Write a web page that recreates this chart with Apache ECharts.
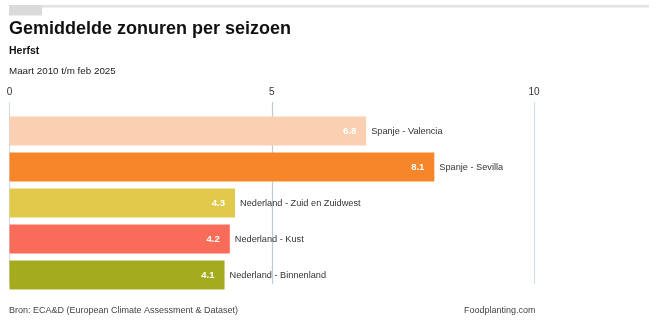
<!DOCTYPE html>
<html>
<head>
<meta charset="utf-8">
<script src="https://cdn.jsdelivr.net/npm/echarts@6/dist/echarts.min.js"></script>
<style>
  html, body { margin: 0; padding: 0; background: #fff; }
  #chart { width: 656px; height: 322px; }
</style>
</head>
<body>
<div id="chart"></div>
<script>
// Average sunshine hours per day, autumn, per region
const regions = [
  'Spanje - Valencia',
  'Spanje - Sevilla',
  'Nederland - Zuid en Zuidwest',
  'Nederland - Kust',
  'Nederland - Binnenland'
];
const sunHours = [6.8, 8.1, 4.3, 4.2, 4.1];
const barColors = ['#fbcfb1', '#f7862b', '#e1c94c', '#f96c5a', '#a5ab1f'];
const axisTicks = [0, 5, 10];

const FONT = '"Liberation Sans", Arial, Helvetica, sans-serif';

const chart = echarts.init(document.getElementById('chart'), null, { renderer: 'canvas' });

const barData = sunHours.map((v, i) => ({
  value: v,
  itemStyle: { color: barColors[i] }
}));

const option = {
  animation: false,
  backgroundColor: '#fff',
  textStyle: { fontFamily: FONT },
  graphic: [
    { type: 'rect', shape: { x: 9, y: 5, width: 640, height: 2.5 }, style: { fill: '#e2e2e2' }, silent: true },
    { type: 'rect', shape: { x: 9, y: 5, width: 33, height: 10.5 }, style: { fill: '#dadada' }, silent: true },
    { type: 'text', x: 9, y: 29, style: { text: 'Gemiddelde zonuren per seizoen', font: 'bold 18px ' + FONT, fill: '#111', textVerticalAlign: 'middle' }, silent: true },
    { type: 'text', x: 9, y: 51, style: { text: 'Herfst', font: 'bold 10.5px ' + FONT, fill: '#111', textVerticalAlign: 'middle' }, silent: true },
    { type: 'text', x: 9, y: 71, style: { text: 'Maart 2010 t/m feb 2025', font: '9.8px ' + FONT, fill: '#222', textVerticalAlign: 'middle' }, silent: true },
    { type: 'text', x: 9, y: 311, style: { text: 'Bron: ECA&D (European Climate Assessment & Dataset)', font: '9px ' + FONT, fill: '#444', textVerticalAlign: 'middle' }, silent: true },
    { type: 'text', x: 464, y: 311, style: { text: 'Foodplanting.com', font: '9px ' + FONT, fill: '#444', textVerticalAlign: 'middle' }, silent: true }
  ],
  grid: [
    // reference lines and top tick labels
    { left: 9.5, right: 122, top: 102, height: 182 },
    // bars
    { left: 9.5, right: 122, top: 113, height: 180 }
  ],
  xAxis: [
    {
      gridIndex: 0,
      type: 'value',
      position: 'top',
      min: axisTicks[0],
      max: axisTicks[axisTicks.length - 1],
      interval: 5,
      axisLine: { show: false },
      axisTick: { show: false },
      axisLabel: {
        margin: 5,
        fontSize: 10,
        color: '#333',
        fontFamily: FONT
      },
      splitLine: {
        show: true,
        lineStyle: { color: ['#d3dde6', '#bccbd8', '#d3dde6'], width: 1.2 }
      }
    },
    {
      gridIndex: 1,
      type: 'value',
      min: axisTicks[0],
      max: axisTicks[axisTicks.length - 1],
      show: false
    }
  ],
  yAxis: [
    { gridIndex: 0, type: 'value', show: false, min: 0, max: 1 },
    {
      gridIndex: 1,
      type: 'category',
      data: regions,
      inverse: true,
      show: false
    }
  ],
  series: [
    {
      type: 'bar',
      xAxisIndex: 1,
      yAxisIndex: 1,
      data: barData,
      barWidth: 29,
      barGap: '-100%',
      z: 3,
      label: {
        show: true,
        position: 'insideRight',
        distance: 10,
        color: '#fff',
        fontWeight: 'bold',
        fontSize: 9.5,
        fontFamily: FONT,
        formatter: p => p.value.toFixed(1)
      }
    },
    {
      type: 'bar',
      xAxisIndex: 1,
      yAxisIndex: 1,
      data: sunHours,
      barWidth: 29,
      barGap: '-100%',
      z: 2,
      itemStyle: { color: 'rgba(0,0,0,0)' },
      label: {
        show: true,
        position: 'right',
        distance: 5,
        color: '#333',
        fontSize: 9.2,
        fontFamily: FONT,
        formatter: p => regions[p.dataIndex]
      }
    }
  ]
};

chart.setOption(option);
</script>
</body>
</html>
